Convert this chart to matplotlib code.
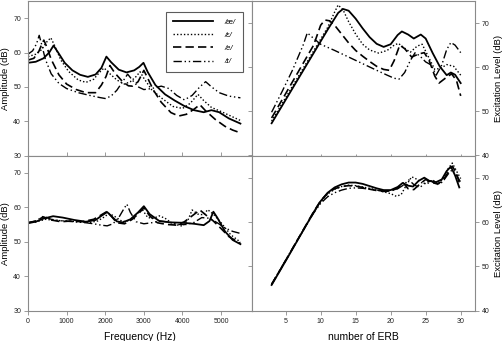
import matplotlib
matplotlib.use("Agg")
import matplotlib.pyplot as plt

plt.rcParams['font.family'] = ['Liberation Sans', 'DejaVu Sans']

## Daten
vowels = ['/æ/', '/ε/', '/e/', '/ɪ/']

# oben links: Amplitudenspektrum (Hz, dB)
f_tl_ae = [0, 200, 400, 550, 660, 780, 950, 1150, 1350, 1550, 1750, 1900, 2030, 2150, 2350, 2550, 2750, 2880, 2990, 3100, 3300, 3550, 3800, 4050, 4300, 4550, 4750, 4950, 5200, 5500]
a_tl_ae = [57.0, 57.3, 58.3, 60.0, 62.0, 60.0, 57.0, 54.8, 53.5, 52.9, 53.6, 55.5, 58.8, 57.2, 55.0, 54.2, 54.8, 55.8, 57.0, 54.3, 50.5, 47.8, 46.0, 44.4, 43.2, 42.6, 43.2, 42.6, 40.8, 39.3]
f_tl_eh = [0, 200, 350, 480, 590, 690, 850, 1050, 1300, 1500, 1700, 1850, 1970, 2100, 2300, 2500, 2650, 2800, 2900, 3000, 3200, 3450, 3750, 4000, 4200, 4400, 4550, 4750, 5000, 5250, 5500]
a_tl_eh = [58.8, 59.5, 60.8, 63.0, 64.3, 62.0, 57.8, 54.5, 52.0, 51.3, 52.2, 54.2, 55.5, 54.0, 52.0, 50.8, 51.5, 53.0, 54.4, 52.5, 49.2, 46.8, 44.3, 43.7, 45.2, 47.8, 46.0, 44.0, 42.8, 41.5, 40.2]
f_tl_e = [0, 150, 280, 360, 410, 480, 600, 800, 1000, 1250, 1500, 1750, 1900, 2020, 2120, 2250, 2450, 2600, 2700, 2850, 3000, 3100, 3250, 3450, 3700, 3900, 4100, 4300, 4450, 4600, 4850, 5100, 5300, 5500]
a_tl_e = [57.8, 58.3, 60.3, 62.5, 63.6, 61.8, 58.0, 53.5, 50.8, 49.2, 48.3, 48.3, 50.5, 53.0, 56.2, 54.0, 51.5, 50.3, 50.2, 51.5, 54.8, 52.5, 49.0, 45.5, 42.5, 41.5, 42.0, 43.5, 44.8, 43.0, 40.5, 38.5, 37.4, 36.6]
f_tl_i = [0, 120, 220, 290, 350, 450, 600, 800, 1000, 1300, 1600, 1850, 2000, 2150, 2300, 2450, 2580, 2700, 2850, 3000, 3200, 3450, 3650, 3850, 4050, 4250, 4450, 4600, 4750, 4950, 5200, 5500]
a_tl_i = [59.5, 60.5, 62.5, 65.0, 62.5, 58.0, 53.8, 51.0, 49.5, 48.3, 47.5, 46.9, 46.6, 47.3, 49.0, 51.5, 53.7, 52.0, 50.0, 49.2, 49.5, 50.2, 49.5, 47.5, 46.2, 47.5, 50.0, 51.5, 50.0, 48.3, 47.3, 46.8]

# oben rechts: Erregungsmuster (ERB, dB)
e_tr_ae = [3, 5, 7, 9, 11, 12.5, 13.2, 14, 15, 16, 17, 18, 19, 20, 21, 21.6, 22.5, 23.3, 24.3, 25, 26, 27, 28, 28.6, 29.2, 30]
x_tr_ae = [47.3, 52.6, 57.9, 63.2, 68.5, 72.3, 73.2, 72.8, 71.0, 68.8, 66.8, 65.3, 64.6, 65.2, 67.3, 68.1, 67.4, 66.5, 67.4, 66.5, 63.2, 60.2, 58.2, 58.8, 58.3, 56.4]
e_tr_eh = [3, 5, 7, 9, 11, 12.0, 12.5, 13.2, 14, 15, 16, 17, 18.3, 19.5, 20.5, 21.1, 22, 22.8, 23.8, 24.5, 25.5, 26.3, 27.2, 28, 29, 30]
x_tr_eh = [47.8, 53.1, 58.4, 63.7, 69.0, 72.5, 74.1, 73.0, 70.3, 67.5, 65.2, 63.9, 63.2, 63.8, 65.0, 65.4, 64.3, 63.4, 64.8, 65.2, 62.0, 59.5, 59.8, 60.6, 60.2, 58.2]
e_tr_e = [3, 5, 7, 9, 10, 10.6, 11.3, 12, 13, 14, 15, 16, 17, 18, 19, 19.8, 20.5, 21.3, 22, 23, 24, 24.8, 25.5, 26.3, 26.9, 27.8, 28.7, 29.4, 30]
x_tr_e = [48.5, 54.0, 59.5, 65.0, 69.5, 70.7, 70.5, 69.5, 67.5, 65.5, 63.8, 62.5, 61.3, 60.2, 59.5, 59.3, 61.5, 65.0, 64.2, 62.3, 63.0, 63.3, 61.5, 58.0, 56.4, 57.5, 58.5, 57.0, 53.5]
e_tr_i = [3, 4.5, 6, 7.5, 8.1, 8.8, 10, 12, 14, 16, 18, 19.5, 20.5, 21.2, 22, 22.8, 23.5, 24.2, 25, 25.8, 26.5, 27.3, 28, 28.6, 29.2, 30]
x_tr_i = [49.8, 54.5, 59.4, 65.0, 67.8, 66.8, 65.2, 63.8, 62.3, 60.8, 59.3, 58.2, 57.5, 57.3, 58.8, 61.5, 63.3, 62.5, 61.2, 60.5, 58.2, 60.5, 64.0, 65.6, 65.0, 63.3]

# unten links: geglättetes Spektrum
f_bl_ae = [0, 200, 400, 650, 900, 1200, 1500, 1750, 1900, 2050, 2150, 2300, 2450, 2650, 2850, 3000, 3150, 3400, 3700, 4000, 4300, 4550, 4700, 4800, 4900, 5100, 5300, 5500]
a_bl_ae = [55.4, 55.8, 56.7, 57.4, 57.0, 56.3, 55.8, 56.3, 57.5, 58.6, 57.5, 55.9, 55.6, 56.5, 58.5, 60.3, 58.0, 56.0, 55.6, 55.5, 55.2, 54.8, 56.0, 58.7, 57.0, 53.0, 50.5, 49.3]
f_bl_eh = [0, 200, 450, 700, 1000, 1300, 1600, 1800, 1950, 2100, 2250, 2450, 2650, 2800, 2950, 3100, 3250, 3400, 3550, 3750, 4000, 4150, 4250, 4400, 4550, 4650, 4800, 5000, 5250, 5500]
a_bl_eh = [55.5, 55.7, 56.5, 56.2, 56.0, 55.8, 55.6, 56.0, 57.0, 58.2, 57.3, 55.8, 56.2, 57.8, 59.5, 57.0, 56.8, 57.5, 56.8, 55.2, 54.5, 56.5, 59.2, 58.0, 57.8, 59.3, 58.0, 55.5, 52.0, 49.9]
f_bl_e = [0, 200, 400, 600, 850, 1100, 1400, 1700, 1900, 2050, 2150, 2300, 2500, 2700, 2850, 3000, 3150, 3350, 3600, 3850, 4050, 4250, 4450, 4600, 4800, 5000, 5200, 5500]
a_bl_e = [55.4, 56.0, 57.2, 56.3, 55.8, 56.0, 55.8, 56.5, 57.8, 58.8, 57.5, 55.5, 55.2, 56.5, 58.0, 59.8, 57.5, 55.5, 55.0, 54.8, 55.8, 57.5, 59.2, 57.8, 56.0, 53.8, 51.5, 49.5]
f_bl_i = [0, 200, 400, 600, 900, 1200, 1500, 1700, 1900, 2050, 2200, 2350, 2480, 2560, 2650, 2800, 3000, 3200, 3400, 3650, 3900, 4100, 4300, 4500, 4700, 4900, 5100, 5300, 5500]
a_bl_i = [55.6, 56.0, 57.4, 56.5, 56.0, 55.8, 55.5, 55.2, 54.8, 54.6, 55.2, 57.0, 59.5, 60.9, 58.5, 55.8, 55.2, 55.5, 56.0, 55.7, 55.0, 55.0, 55.6, 57.0, 56.8, 55.5, 54.0, 53.0, 52.4]

# unten rechts: Erregungsmuster nach Glaettung
e_br_ae = [3, 5, 7, 9, 10, 11, 12, 13, 14, 15, 16, 17, 18, 19, 20, 21, 21.7, 22.5, 23.2, 24, 24.8, 25.5, 26.5, 27.3, 28, 28.6, 29.2, 29.8]
x_br_ae = [45.8, 51.2, 56.7, 62.2, 64.7, 66.6, 67.8, 68.5, 68.9, 68.9, 68.6, 68.1, 67.6, 67.2, 67.2, 67.9, 68.8, 68.2, 68.0, 69.3, 70.0, 69.3, 69.0, 69.6, 71.5, 72.5, 70.5, 67.8]
e_br_eh = [3, 5, 7, 9, 10, 11, 12, 13, 14, 15, 16, 17, 18, 19, 20, 20.8, 21.5, 22.2, 23, 23.8, 24.5, 25.2, 26, 26.8, 27.5, 28.2, 28.8, 29.4, 30]
x_br_eh = [46.0, 51.3, 56.7, 62.1, 64.5, 66.3, 67.4, 68.0, 68.3, 68.2, 67.9, 67.6, 67.2, 66.8, 66.4, 65.8, 66.2, 68.2, 70.2, 69.6, 68.8, 68.6, 69.5, 68.5, 69.8, 72.0, 73.3, 71.5, 69.8]
e_br_e = [3, 5, 7, 9, 10, 11, 12, 13, 14, 15, 16, 17, 18, 19, 20, 21, 21.8, 22.5, 23.3, 24.2, 25, 25.8, 26.6, 27.4, 28.2, 28.8, 29.4, 29.9]
x_br_e = [45.9, 51.3, 56.8, 62.3, 64.8, 66.5, 67.5, 68.0, 68.2, 68.1, 67.8, 67.4, 67.1, 66.9, 67.0, 67.6, 68.8, 67.5, 67.3, 68.6, 69.6, 69.0, 68.6, 69.2, 71.2, 72.6, 71.0, 68.3]
e_br_i = [3, 5, 7, 9, 10, 11, 12, 13, 14, 15, 16, 17, 18, 19, 20, 21, 21.8, 22.6, 23.4, 24.2, 25, 25.8, 26.6, 27.4, 28.2, 28.8, 29.4, 30]
x_br_i = [46.0, 51.4, 56.8, 62.0, 64.2, 65.7, 66.6, 67.2, 67.6, 67.7, 67.6, 67.4, 67.2, 67.0, 67.0, 67.5, 68.3, 69.5, 68.3, 67.8, 69.0, 69.2, 68.4, 69.0, 70.8, 71.8, 70.5, 69.0]

## Stil
styles = [dict(ls='-', lw=1.3),
          dict(ls=(0, (1, 1.5)), lw=1.0),
          dict(ls=(0, (5, 2.5)), lw=1.2),
          dict(ls=(0, (6, 2, 1, 2, 1, 2)), lw=1.0)]
grey = '#8a8a8a'

fig = plt.figure(figsize=(5.04, 3.41), dpi=100)
W, H = 504.0, 341.0
def box(x0, y0, x1, y1):
    return [x0 / W, 1 - y1 / H, (x1 - x0) / W, (y1 - y0) / H]

ax_tl = fig.add_axes(box(28, 1, 252, 155.5))
ax_tr = fig.add_axes(box(252, 1, 474.7, 155.5))
ax_bl = fig.add_axes(box(28, 155.5, 252, 310.7))
ax_br = fig.add_axes(box(252, 155.5, 474.7, 310.7))

tl = [(f_tl_ae, a_tl_ae), (f_tl_eh, a_tl_eh), (f_tl_e, a_tl_e), (f_tl_i, a_tl_i)]
tr = [(e_tr_ae, x_tr_ae), (e_tr_eh, x_tr_eh), (e_tr_e, x_tr_e), (e_tr_i, x_tr_i)]
bl = [(f_bl_ae, a_bl_ae), (f_bl_eh, a_bl_eh), (f_bl_e, a_bl_e), (f_bl_i, a_bl_i)]
br = [(e_br_ae, x_br_ae), (e_br_eh, x_br_eh), (e_br_e, x_br_e), (e_br_i, x_br_i)]

for ax, data in [(ax_tl, tl), (ax_tr, tr), (ax_bl, bl), (ax_br, br)]:
    for (x, y), st, lab in zip(data, styles, vowels):
        ax.plot(x, y, color='black', label=lab, **st)
    for s in ax.spines.values():
        s.set_color(grey)
        s.set_linewidth(0.8)
    ax.tick_params(colors=grey, labelcolor='#222222', labelsize=5, length=3, width=0.6, pad=2)

# linke Achsen
for ax in (ax_tl, ax_bl):
    ax.set_xlim(0, 5800)
    ax.set_ylim(30, 75)
    ax.set_yticks([30, 40, 50, 60, 70])
    ax.set_xticks([0, 1000, 2000, 3000, 4000, 5000])
    ax.set_ylabel('Amplitude (dB)', fontsize=6.8)
    ax.yaxis.set_label_coords(-0.082, 0.5)
ax_tl.tick_params(axis='x', direction='in', labelbottom=False)
ax_tl.set_xticks([1000, 2000, 3000, 4000, 5000])
ax_bl.set_xlabel('Frequency (Hz)', fontsize=7.5)
ax_bl.xaxis.set_label_coords(0.5, -0.135)

# rechte Achsen
for ax in (ax_tr, ax_br):
    ax.set_xlim(0.2, 32)
    ax.set_ylim(40, 75)
    ax.set_yticks([40, 50, 60, 70])
    ax.set_xticks([5, 10, 15, 20, 25, 30])
    ax.tick_params(axis='y', left=True, right=True, labelleft=False, labelright=True)
    ax.yaxis.set_label_position('right')
    ax.set_ylabel('Excitation Level (dB)', fontsize=6.8)
    ax.yaxis.set_label_coords(1.086, 0.5)
ax_tr.tick_params(axis='x', direction='inout', labelbottom=False)
ax_br.set_xlabel('number of ERB', fontsize=7.5)
ax_br.xaxis.set_label_coords(0.5, -0.135)

leg = ax_tl.legend(loc='upper right', bbox_to_anchor=(0.976, 0.955),
                   handlelength=5.2, frameon=True, fancybox=False, borderpad=0.9,
                   labelspacing=0.75, handletextpad=1.6, prop={'style': 'italic', 'size': 5.5})
leg.get_frame().set_edgecolor('#333333')
leg.get_frame().set_linewidth(0.8)

fig.savefig('out.png', dpi=100)
